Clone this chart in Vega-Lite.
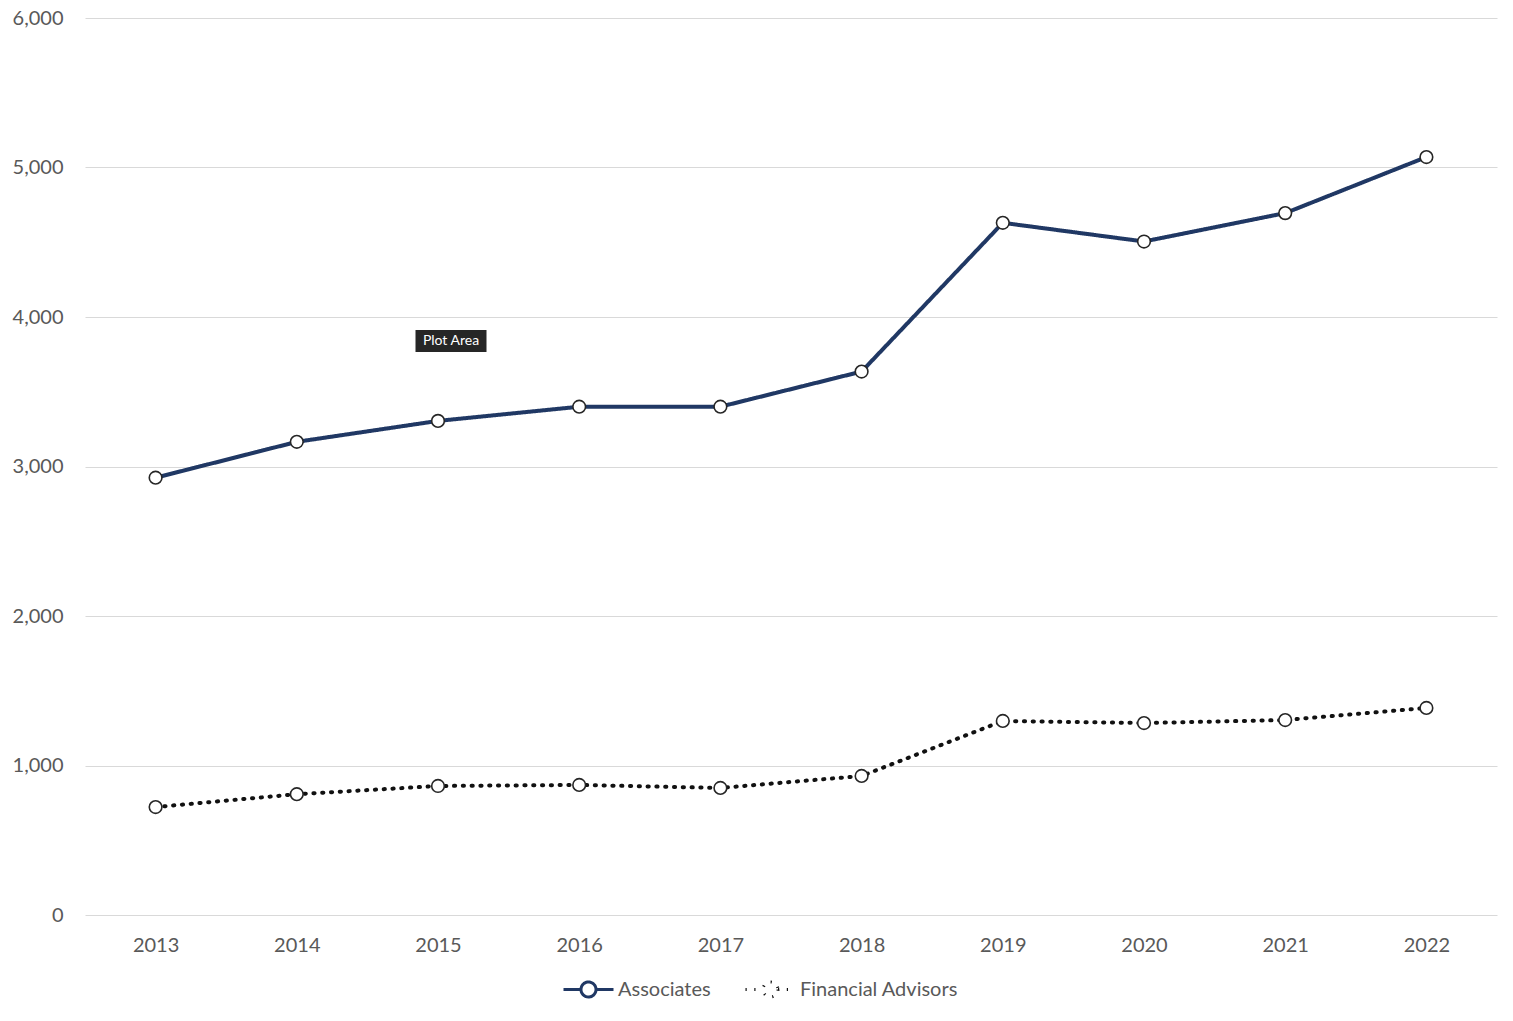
{
  "$schema": "https://vega.github.io/schema/vega-lite/v6.json",
  "autosize": "none",
  "width": 1412,
  "height": 897,
  "padding": {"left": 85, "top": 18, "right": 16, "bottom": 106},
  "background": "white",
  "config": {
    "font": "Lato",
    "view": {"stroke": null},
    "axis": {"labelFont": "Lato", "labelFontSize": 20, "labelColor": "#595959", "domain": false, "ticks": false, "title": null},
    "legend": {"labelFont": "Lato", "labelFontSize": 20, "labelColor": "#595959"}
  },
  "datasets": {
    "main": [
      {"year": "2013", "series": "Associates", "value": 2925},
      {"year": "2014", "series": "Associates", "value": 3165},
      {"year": "2015", "series": "Associates", "value": 3305},
      {"year": "2016", "series": "Associates", "value": 3400},
      {"year": "2017", "series": "Associates", "value": 3400},
      {"year": "2018", "series": "Associates", "value": 3635},
      {"year": "2019", "series": "Associates", "value": 4630},
      {"year": "2020", "series": "Associates", "value": 4505},
      {"year": "2021", "series": "Associates", "value": 4695},
      {"year": "2022", "series": "Associates", "value": 5070},
      {"year": "2013", "series": "Financial Advisors", "value": 722},
      {"year": "2014", "series": "Financial Advisors", "value": 808},
      {"year": "2015", "series": "Financial Advisors", "value": 863},
      {"year": "2016", "series": "Financial Advisors", "value": 870},
      {"year": "2017", "series": "Financial Advisors", "value": 850},
      {"year": "2018", "series": "Financial Advisors", "value": 930},
      {"year": "2019", "series": "Financial Advisors", "value": 1298},
      {"year": "2020", "series": "Financial Advisors", "value": 1284},
      {"year": "2021", "series": "Financial Advisors", "value": 1304},
      {"year": "2022", "series": "Financial Advisors", "value": 1385}
    ]
  },
  "data": {"name": "main"},
  "encoding": {
    "x": {
      "field": "year", "type": "ordinal",
      "scale": {"type": "point", "padding": 0.5},
      "axis": {"labelAngle": 0, "labelPadding": 20, "grid": false}
    },
    "y": {
      "field": "value", "type": "quantitative",
      "scale": {"domain": [0, 6000], "nice": false},
      "axis": {"values": [0, 1000, 2000, 3000, 4000, 5000, 6000], "format": ",d", "labelPadding": 22, "grid": true, "gridColor": "#d9d9d9", "gridWidth": 1.2}
    }
  },
  "layer": [
    {
      "mark": {"type": "line", "strokeWidth": 4, "strokeCap": "round"},
      "encoding": {
        "color": {
          "field": "series", "type": "nominal",
          "scale": {"domain": ["Associates", "Financial Advisors"], "range": ["#203864", "#111111"]},
          "legend": {
            "orient": "none", "legendX": 477, "legendY": 945, "direction": "horizontal", "title": null,
            "symbolType": "M-1,0H-0.3M0.3,0A0.3,0.3 0 1,1 -0.3,0A0.3,0.3 0 1,1 0.3,0M0.3,0H1",
            "symbolSize": 2500, "symbolStrokeWidth": 3, "symbolFillColor": "white",
            "labelOffset": 3, "columnPadding": 28
          }
        },
        "strokeDash": {
          "field": "series", "type": "nominal",
          "scale": {"domain": ["Associates", "Financial Advisors"], "range": [[1, 0], [1.2, 7.6]]},
          "legend": {
            "orient": "none", "legendX": 477, "legendY": 945, "direction": "horizontal", "title": null,
            "symbolType": "M-1,0H-0.3M0.3,0A0.3,0.3 0 1,1 -0.3,0A0.3,0.3 0 1,1 0.3,0M0.3,0H1",
            "symbolSize": 2500, "symbolStrokeWidth": 3, "symbolFillColor": "white",
            "labelOffset": 3, "columnPadding": 28
          }
        }
      }
    },
    {
      "mark": {"type": "point", "shape": "circle", "size": 160, "filled": true, "fill": "white", "stroke": "#262626", "strokeWidth": 1.6, "opacity": 1},
      "encoding": {}
    },
    {
      "data": {"values": [{"year": "2015", "value": 3840, "label": "Plot Area"}]},
      "mark": {"type": "point", "shape": "M-1,-0.31H1V0.31H-1Z", "size": 5041, "filled": true, "fill": "#262626", "stroke": null, "opacity": 1, "xOffset": 13},
      "encoding": {}
    },
    {
      "data": {"values": [{"year": "2015", "value": 3840, "label": "Plot Area"}]},
      "mark": {"type": "text", "font": "Lato", "fontSize": 14, "color": "white", "align": "center", "baseline": "middle", "xOffset": 13},
      "encoding": {"text": {"field": "label"}}
    }
  ]
}
